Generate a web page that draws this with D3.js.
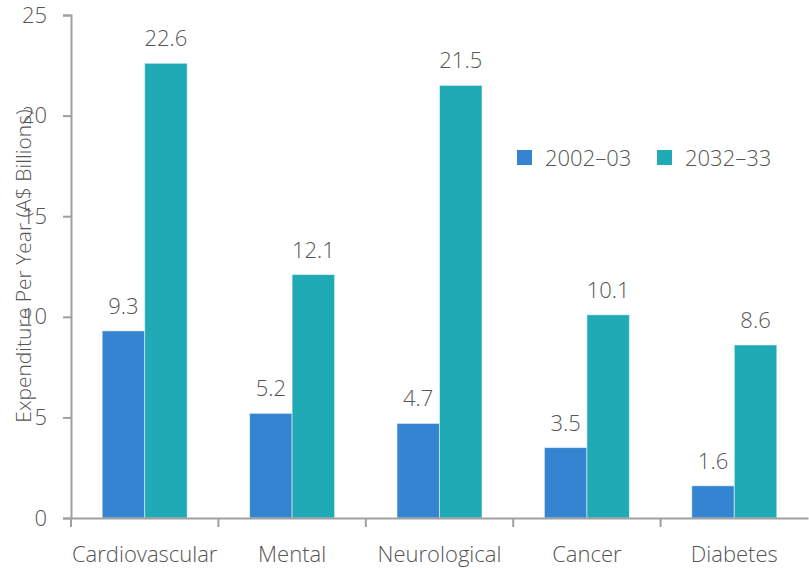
<!DOCTYPE html>
<html>
<head>
<meta charset="utf-8">
<script src="https://cdn.jsdelivr.net/npm/d3@7"></script>
<style>
  body { margin: 0; background: #fff; }
  text { font-family: "Open Sans", sans-serif; font-weight: 300; fill: #555; }
</style>
</head>
<body>
<div id="chart-area"></div>
<script>
// Data
var categories = ["Cardiovascular", "Mental", "Neurological", "Cancer", "Diabetes"];
var series = ["2002\u201303", "2032\u201333"];
var values2002 = [9.3, 5.2, 4.7, 3.5, 1.6];
var values2032 = [22.6, 12.1, 21.5, 10.1, 8.6];
var yTicks = [0, 5, 10, 15, 20, 25];
var colors = ["#3584d2", "#20aab5"];

var data = [];
categories.forEach((c, i) => {
    data.push({cat: c, s: series[0], v: values2002[i]});
    data.push({cat: c, s: series[1], v: values2032[i]});
});

var width = 809, height = 568;
var plotLeft = 71, plotRight = 808, plotTop = 15, plotBottom = 518;
var fontSize = "22px";

var svg = d3.select("#chart-area")
    .append("svg")
    .attr("width", width)
    .attr("height", height);

// Scales
var x = d3.scaleBand().domain(categories).range([plotLeft, plotRight]).padding(0);
var groupW = 85;
var x1 = d3.scaleBand().domain(series).range([0, groupW]).padding(0);
var y = d3.scaleLinear().domain([0, 25]).range([plotBottom, plotTop]);
var color = d3.scaleOrdinal().domain(series).range(colors);

// Bars
var offset = (x.bandwidth() - groupW) / 2;
svg.selectAll("rect.bar")
    .data(data)
    .enter()
    .append("rect")
    .attr("class", "bar")
    .attr("x", d => x(d.cat) + offset + x1(d.s))
    .attr("y", d => y(d.v))
    .attr("width", x1.bandwidth())
    .attr("height", d => plotBottom - y(d.v))
    .attr("fill", d => color(d.s))
    .attr("stroke", "rgba(255,255,255,0.5)")
    .attr("stroke-width", 1);

// Value labels
svg.selectAll("text.val")
    .data(data)
    .enter()
    .append("text")
    .attr("class", "val")
    .attr("x", d => x(d.cat) + offset + x1(d.s) + x1.bandwidth() / 2)
    .attr("y", d => y(d.v) - 17)
    .attr("text-anchor", "middle")
    .attr("font-size", fontSize)
    .text(d => d.v.toFixed(1));

// Axes
var yAxis = d3.axisLeft(y).tickValues(yTicks).tickSize(8).tickPadding(16);
var gy = svg.append("g")
    .attr("transform", "translate(" + plotLeft + ",0)")
    .call(yAxis);
gy.select(".domain").attr("stroke", "#a0a0a0").attr("stroke-width", 2);
gy.selectAll(".tick line").attr("stroke", "#a0a0a0").attr("stroke-width", 2);
gy.selectAll(".tick text").attr("font-size", fontSize).style("font-family", "Open Sans").style("font-weight", 300).attr("fill", "#555");

var xAxis = d3.axisBottom(x).tickValues([]).tickSizeOuter(0);
var gx = svg.append("g")
    .attr("transform", "translate(0," + plotBottom + ")")
    .call(xAxis);
gx.select(".domain").attr("stroke", "#a0a0a0").attr("stroke-width", 2);

// Category boundary ticks
gx.selectAll("line.bt")
    .data(categories)
    .enter()
    .append("line")
    .attr("class", "bt")
    .attr("x1", d => x(d)).attr("x2", d => x(d))
    .attr("y1", 0).attr("y2", 9)
    .attr("stroke", "#a0a0a0")
    .attr("stroke-width", 2);

// Category labels
svg.selectAll("text.cat")
    .data(categories)
    .enter()
    .append("text")
    .attr("class", "cat")
    .attr("x", d => x(d) + x.bandwidth() / 2)
    .attr("y", 562)
    .attr("text-anchor", "middle")
    .attr("font-size", fontSize)
    .text(d => d);

// Y axis label
svg.append("text")
    .attr("transform", "rotate(-90)")
    .attr("x", -266)
    .attr("y", 31)
    .attr("text-anchor", "middle")
    .attr("font-size", "21px")
    .text("Expenditure Per Year (A$ Billions)");

// Legend
var legendX = [517, 657];
var legend = svg.selectAll("g.leg")
    .data(series)
    .enter()
    .append("g")
    .attr("class", "leg")
    .attr("transform", (d, i) => "translate(" + legendX[i] + ",150)");
legend.append("rect")
    .attr("width", 15).attr("height", 15)
    .attr("fill", d => color(d));
legend.append("text")
    .attr("x", 28).attr("y", 16)
    .attr("font-size", fontSize)
    .text(d => d);
</script>
</body>
</html>
